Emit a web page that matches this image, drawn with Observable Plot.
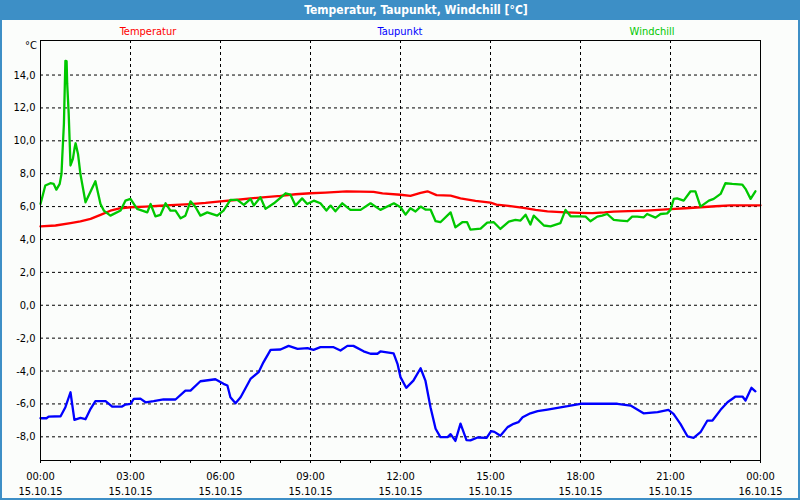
<!DOCTYPE html>
<html>
<head>
<meta charset="utf-8">
<script src="https://cdn.jsdelivr.net/npm/d3@7"></script>
<script src="https://cdn.jsdelivr.net/npm/@observablehq/plot@0.6"></script>
<style>
  body { margin: 0; background: #ffffff; }
  #wrap { position: relative; width: 800px; height: 500px; background: #fbfdfb; overflow: hidden;
          font-family: "DejaVu Sans Condensed", "DejaVu Sans", sans-serif; }
  #titlebar { position: absolute; left: 0; top: 0; width: 800px; height: 20px; background: #3d8fc6; }
  #title { position: absolute; left: 416px; top: 0; transform: translateX(-50%); white-space: nowrap;
           color: #ffffff; font-weight: bold; font-size: 12px; line-height: 20px; }
  .legend { position: absolute; top: 25px; transform: translateX(-50%); font-size: 11px; line-height: 14px; white-space: nowrap; }
  .border { position: absolute; background: #3d8fc6; }
  #chart { position: absolute; left: 0; top: 0; }
  #unit { position: absolute; left: 25px; top: 39px; font-size: 11px; line-height: 14px; color: #000; }
</style>
</head>
<body>
<div id="wrap">
  <div id="chart"></div>
  <div id="titlebar"><div id="title"></div></div>
  <div id="unit"></div>
  <div class="border" style="left:0;top:0;width:2px;height:500px"></div>
  <div class="border" style="right:0;top:0;width:2px;height:500px"></div>
  <div class="border" style="left:0;bottom:0;width:800px;height:2px"></div>
</div>
<script>
// ---- texts ----
const titleText = "Temperatur, Taupunkt, Windchill [°C]";
const unitText = "°C";
const seriesNames = ["Temperatur", "Taupunkt", "Windchill"];
const seriesColors = ["#ff0000", "#0000ff", "#00c800"];
const legendCenters = [148, 400, 652];

// ---- axis ticks ----
const yTicks = [-8, -6, -4, -2, 0, 2, 4, 6, 8, 10, 12, 14];
const yDomain = [-9.44, 16.1];
const xDomain = [0, 24];
const hourTicks = d3.range(0, 25, 1);
const gridHours = [3, 6, 9, 12, 15, 18, 21];
const labelHours = [0, 3, 6, 9, 12, 15, 18, 21, 24];
const labelTimes = ["00:00", "03:00", "06:00", "09:00", "12:00", "15:00", "18:00", "21:00", "00:00"];
const labelDates = ["15.10.15", "15.10.15", "15.10.15", "15.10.15", "15.10.15", "15.10.15", "15.10.15", "15.10.15", "16.10.15"];

// ---- Temperatur ----
const tempH = [0, 0.5, 1.0, 1.33, 1.67, 2.0, 2.33, 2.67, 3.0, 3.5, 4.0, 4.5, 5.0, 5.5, 6.0, 6.5, 7.0, 7.5, 8.0, 8.5, 9.0, 9.5,
  10.2, 11.1, 11.4, 12.0, 12.33, 12.67, 12.9, 13.2, 13.67, 14.0, 14.5, 15.0, 15.2, 15.6, 16.1, 16.5, 16.9, 17.5, 18.0, 18.4,
  18.8, 19.1, 19.6, 20.2, 20.6, 21.0, 21.5, 22.0, 22.5, 23.0, 23.5, 24.0];
const tempV = [4.8, 4.85, 5.0, 5.1, 5.25, 5.5, 5.75, 5.9, 5.96, 6.0, 6.05, 6.1, 6.15, 6.22, 6.32, 6.4, 6.5, 6.58, 6.65, 6.75, 6.81, 6.85,
  6.93, 6.9, 6.8, 6.72, 6.65, 6.83, 6.93, 6.7, 6.67, 6.5, 6.35, 6.24, 6.12, 6.05, 5.92, 5.8, 5.71, 5.65, 5.62, 5.6,
  5.65, 5.7, 5.72, 5.76, 5.8, 5.84, 5.9, 5.96, 6.02, 6.08, 6.08, 6.08];

// ---- Taupunkt ----
const dewH = [0, 0.2, 0.27, 0.67, 0.83, 1.0, 1.13, 1.33, 1.5, 1.67, 1.83, 2.17, 2.39, 2.72, 2.83, 3.0, 3.11, 3.33, 3.5, 3.77,
  4.1, 4.5, 4.83, 5.0, 5.33, 5.83, 6.1, 6.23, 6.33, 6.5, 6.67, 7.0, 7.27, 7.43, 7.67, 8.0, 8.27, 8.57, 8.9, 9.1, 9.33, 9.77,
  10.0, 10.23, 10.43, 10.77, 11.0, 11.23, 11.33, 11.77, 11.9, 12.0, 12.19, 12.43, 12.67, 12.83, 13.0, 13.17, 13.33, 13.57,
  13.67, 13.83, 14.0, 14.2, 14.33, 14.57, 14.87, 15.02, 15.13, 15.33, 15.57, 15.77, 15.93, 16.07, 16.33, 16.57, 16.9, 17.57,
  18.0, 19.23, 19.67, 20.1, 20.57, 20.93, 21.1, 21.33, 21.57, 21.77, 22.0, 22.23, 22.4, 22.67, 22.9, 23.17, 23.4, 23.5, 23.7, 23.83];
const dewV = [-6.87, -6.87, -6.77, -6.75, -6.2, -5.29, -6.97, -6.85, -6.93, -6.3, -5.83, -5.83, -6.16, -6.16, -6.04, -6.0, -5.69, -5.68, -5.9, -5.83,
  -5.73, -5.73, -5.19, -5.19, -4.62, -4.5, -4.78, -4.88, -5.59, -5.96, -5.59, -4.48, -4.07, -3.47, -2.71, -2.69, -2.47, -2.65, -2.61, -2.71, -2.55, -2.55,
  -2.75, -2.47, -2.47, -2.8, -2.95, -2.95, -2.81, -2.92, -3.56, -4.37, -5.02, -4.58, -3.83, -4.58, -6.2, -7.51, -8.02, -8.02,
  -7.84, -8.25, -7.2, -8.2, -8.22, -8.04, -8.07, -7.65, -7.7, -7.94, -7.41, -7.21, -7.11, -6.81, -6.57, -6.44, -6.34, -6.14,
  -5.99, -5.99, -6.1, -6.57, -6.5, -6.36, -6.6, -7.21, -7.98, -8.06, -7.72, -7.01, -7.01, -6.36, -5.9, -5.55, -5.55, -5.79, -5.02, -5.23];

// ---- Windchill ----
const windH = [0, 0.16, 0.33, 0.44, 0.53, 0.64, 0.7, 0.73, 0.78, 0.83, 0.87, 0.89, 0.94, 1.0, 1.08, 1.14, 1.17, 1.25, 1.33, 1.5,
  1.83, 2.0, 2.11, 2.33, 2.67, 2.83, 3.0, 3.22, 3.56, 3.67, 3.83, 4.0, 4.17, 4.33, 4.5, 4.67, 4.83, 5.0, 5.17, 5.33, 5.56, 5.89,
  6.1, 6.33, 6.56, 6.78, 7.0, 7.11, 7.33, 7.5, 7.78, 8.17, 8.33, 8.5, 8.72, 8.89, 9.11, 9.33, 9.53, 9.67, 9.83, 10.06, 10.33,
  10.67, 11.0, 11.33, 11.78, 12.0, 12.17, 12.33, 12.5, 12.67, 12.83, 13.0, 13.17, 13.33, 13.67, 13.83, 14.06, 14.22, 14.33,
  14.67, 14.89, 15.11, 15.33, 15.61, 15.83, 16.0, 16.17, 16.33, 16.44, 16.78, 17.0, 17.33, 17.5, 17.67, 18.0, 18.17, 18.33,
  18.56, 18.72, 18.89, 19.11, 19.33, 19.56, 19.72, 19.89, 20.11, 20.22, 20.5, 20.67, 20.89, 21.0, 21.11, 21.22, 21.44, 21.67,
  21.83, 22.0, 22.28, 22.44, 22.67, 22.83, 23.06, 23.39, 23.5, 23.67, 23.83];
const windV = [6.16, 7.28, 7.42, 7.38, 7.03, 7.38, 7.99, 9.2, 11.02, 14.86, 14.84, 13.46, 11.63, 8.5, 8.9, 9.6, 9.85, 9.2, 7.99, 6.26,
  7.54, 6.16, 5.76, 5.45, 5.76, 6.36, 6.47, 5.86, 5.65, 6.16, 5.41, 5.5, 6.2, 5.76, 5.76, 5.29, 5.45, 6.32, 5.96, 5.45, 5.65, 5.45,
  5.76, 6.41, 6.41, 6.1, 6.47, 6.06, 6.57, 5.86, 6.2, 6.81, 6.73, 6.06, 6.5, 6.16, 6.36, 6.2, 5.76, 6.06, 5.71, 6.2, 5.8,
  5.8, 6.2, 5.8, 6.2, 5.96, 5.51, 5.9, 5.7, 6.0, 5.82, 5.82, 5.11, 5.05, 5.65, 4.74, 5.05, 5.05, 4.6,
  4.66, 5.03, 5.05, 4.64, 5.09, 5.19, 5.15, 5.51, 4.91, 5.45, 4.85, 4.8, 4.99, 5.8, 5.41, 5.41, 5.39, 5.11,
  5.39, 5.45, 5.55, 5.19, 5.15, 5.11, 5.39, 5.39, 5.35, 5.55, 5.33, 5.55, 5.59, 5.8, 6.47, 6.5, 6.36, 6.93,
  6.93, 6.0, 6.36, 6.47, 6.77, 7.42, 7.38, 7.34, 7.08, 6.47, 6.93];

// ---- build tables ----
const toRows = (H, V) => H.map((h, i) => ({h, v: V[i]}));
const temp = toRows(tempH, tempV);
const dew = toRows(dewH, dewV);
const wind = toRows(windH, windV);

const font = '"DejaVu Sans Condensed", "DejaVu Sans", sans-serif';
const fmtY = v => v.toFixed(1).replace(".", ",").replace("\u2212", "-");

const chart = Plot.plot({
  width: 800,
  height: 500,
  marginTop: 40,
  marginBottom: 40,
  marginLeft: 40,
  marginRight: 40,
  style: {background: "transparent", fontFamily: font, fontSize: "11px", color: "#000"},
  x: {domain: xDomain, axis: null, label: null},
  y: {domain: yDomain, axis: null, label: null},
  marks: [
    Plot.gridY(yTicks, {stroke: "#000", strokeOpacity: 1, strokeDasharray: "3,3"}),
    Plot.gridX(gridHours, {stroke: "#000", strokeOpacity: 1, strokeDasharray: "3,3"}),
    Plot.line(temp, {x: "h", y: "v", stroke: seriesColors[0], strokeWidth: 2.3, curve: "linear"}),
    Plot.line(wind, {x: "h", y: "v", stroke: seriesColors[2], strokeWidth: 2.3, curve: "linear"}),
    Plot.line(dew, {x: "h", y: "v", stroke: seriesColors[1], strokeWidth: 2.3, curve: "linear"}),
    Plot.frame({stroke: "#000"}),
    Plot.axisY(yTicks, {tickSize: 0, tickPadding: 5, tickFormat: fmtY, fontSize: 11, label: null}),
    Plot.axisX(hourTicks, {tickSize: 3, tickFormat: () => "", stroke: "#000", label: null}),
    Plot.axisX(labelHours, {
      tickSize: 0, tickPadding: 9, fontSize: 11, lineHeight: 1.364, label: null,
      tickFormat: h => { const i = labelHours.indexOf(h); return labelTimes[i] + "\n" + labelDates[i]; }
    })
  ]
});
document.getElementById("chart").appendChild(chart);

document.getElementById("title").textContent = titleText;
document.getElementById("unit").textContent = unitText;
const wrap = document.getElementById("wrap");
seriesNames.forEach((name, i) => {
  const d = document.createElement("div");
  d.className = "legend";
  d.style.left = legendCenters[i] + "px";
  d.style.color = seriesColors[i];
  d.textContent = name;
  wrap.appendChild(d);
});
</script>
</body>
</html>
